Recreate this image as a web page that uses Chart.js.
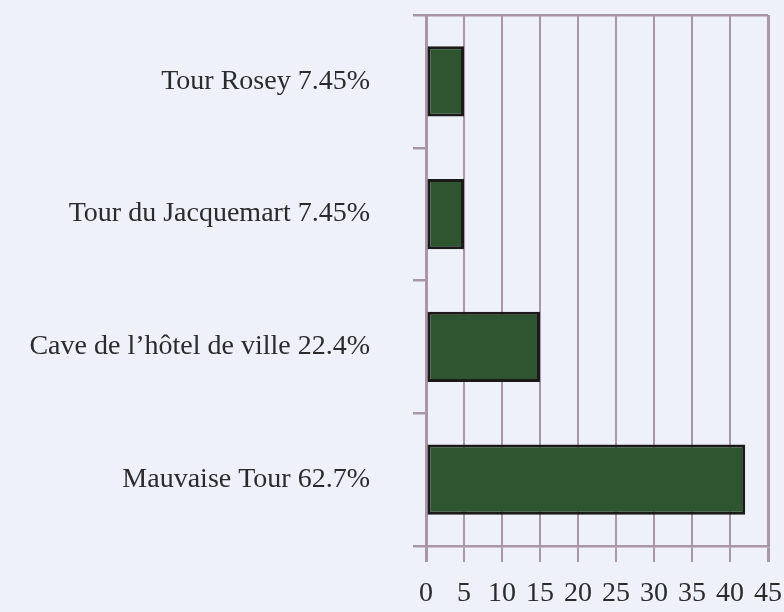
<!DOCTYPE html>
<html>
<head>
<meta charset="utf-8">
<script src="https://cdn.jsdelivr.net/npm/chart.js@4.4.1/dist/chart.umd.min.js"></script>
<style>
  html, body { margin: 0; padding: 0; background: #eef1f9; }
  #wrap { width: 784px; height: 612px; }
</style>
</head>
<body>
<div id="wrap"><canvas id="chart"></canvas></div>
<script>
// categories and values (counts), shares are part of the labels
const categories = ['Tour Rosey 7.45%', 'Tour du Jacquemart 7.45%', 'Cave de l\u2019h\u00f4tel de ville 22.4%', 'Mauvaise Tour 62.7%'];
const counts = [5, 5, 15, 42];
const xTicks = [0, 5, 10, 15, 20, 25, 30, 35, 40, 45];

const gridColor = '#a996a9';
const textColor = '#2b2a2c';
const labelFont = { family: "'Liberation Serif', 'DejaVu Serif', serif", size: 28 };

const data = {
  labels: categories,
  datasets: [{
    data: counts,
    backgroundColor: '#2f5530',
    borderColor: '#1b1a18',
    borderWidth: 3,
    borderSkipped: false,
    categoryPercentage: 1,
    barPercentage: 0.53
  }]
};

const config = {
  type: 'bar',
  data: data,
  options: {
    indexAxis: 'y',
    responsive: true,
    maintainAspectRatio: false,
    animation: false,
    layout: { padding: { top: 15, right: 16, bottom: 4, left: 0 } },
    plugins: { legend: { display: false }, tooltip: { enabled: false } },
    scales: {
      x: {
        min: 0,
        max: 45,
        afterBuildTicks: function(axis) {
          axis.ticks = xTicks.map(v => ({ value: v }));
        },
        afterFit: function(axis) {
          axis.height = 62;
          axis.paddingRight = 0;
          axis.paddingLeft = 0;
        },
        grid: {
          color: gridColor,
          lineWidth: ctx => (ctx.index === 0 || ctx.index === xTicks.length - 1) ? 3 : 2,
          tickLength: 16,
          tickColor: gridColor
        },
        border: { display: true, color: gridColor, width: 2.5 },
        ticks: {
          color: textColor,
          font: { family: labelFont.family, size: 28, lineHeight: 1 },
          padding: 18,
          autoSkip: false,
          maxRotation: 0
        }
      },
      y: {
        afterFit: function(axis) {
          axis.width = 426;
          axis.paddingTop = 0;
          axis.paddingBottom = 0;
        },
        grid: {
          offset: true,
          color: ctx => (ctx.index === 0 || ctx.index === categories.length) ? gridColor : 'rgba(0,0,0,0)',
          lineWidth: 2.5,
          tickLength: 13,
          tickColor: gridColor
        },
        border: { display: true, color: gridColor, width: 3 },
        ticks: { color: textColor, font: labelFont, padding: 43 }
      }
    }
  }
};

const myChart = new Chart(document.getElementById('chart'), config);
</script>
</body>
</html>
